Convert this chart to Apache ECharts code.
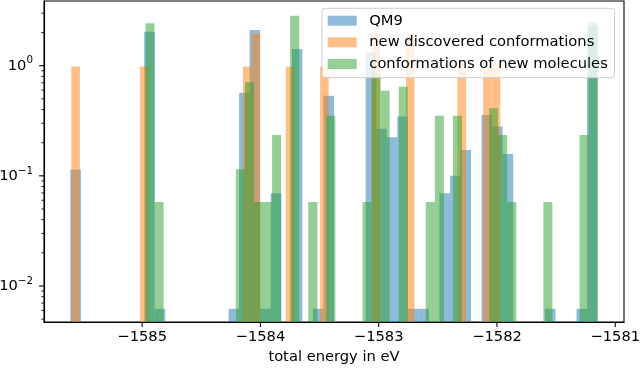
<!DOCTYPE html>
<html>
<head>
<meta charset="utf-8">
<script src="https://cdn.jsdelivr.net/npm/echarts@6/dist/echarts.min.js"></script>
<style>
  html, body { margin: 0; padding: 0; background: #fff; }
  #chart { width: 640px; height: 369px; }
</style>
</head>
<body>
<div id="chart"></div>
<script>
const seriesNames = ['QM9', 'new discovered conformations', 'conformations of new molecules']

// each data set: [min, max] energy in eV, split into 50 bins (density values)
const qm9Range = [-1585.607, -1581.149]
const newConfRange = [-1585.599, -1581.972]
const newMolRange = [-1584.972, -1581.149]

const qm9Density = [
  0.114, 0, 0, 0, 0, 0, 0, 2.03, 0.0062, 0,
  0, 0, 0, 0, 0, 0.0062, 0.569, 2.11, 0.0062, 0.0695,
  0, 1.42, 0, 0.0062, 0.534, 0, 0, 0, 1.32, 0.267,
  0.224, 0.345, 0.0062, 0.0062, 0, 0.0695, 0.1, 0.172, 0, 0.357,
  0.28, 0.158, 0, 0, 0, 0.0062, 0, 0, 0.0062, 2.3
]
const newConfDensity = [
  0.985, 0, 0, 0, 0, 0, 0, 0, 0.985, 0,
  0, 0, 0, 0, 0, 0, 0, 0, 0, 0,
  0.985, 1.97, 0, 0, 0, 0.985, 0, 0, 0, 0.985,
  0, 0, 0, 0, 0, 1.97, 0, 0, 0, 1.97,
  0, 0, 0, 0, 0, 0.985, 0, 0, 0.985, 0.985
]
const newMolDensity = [
  2.43, 0.058, 0, 0, 0, 0, 0, 0, 0, 0,
  0.115, 0.707, 0.058, 0.058, 0.235, 0, 2.84, 0, 0.058, 0,
  0.352, 0, 0, 0, 0.058, 0.85, 0.593, 0, 0.645, 0,
  0, 0.058, 0.352, 0, 0.352, 0, 0, 0, 0.41, 0.235,
  0.058, 0, 0, 0, 0.058, 0, 0, 0, 0.235, 2.48
]

const xTicks = [-1585, -1584, -1583, -1582, -1581]
const yMajorTicks = [0.01, 0.1, 1]
const yMinorTicks = [0.005, 0.006, 0.007, 0.008, 0.009,
  0.02, 0.03, 0.04, 0.05, 0.06, 0.07, 0.08, 0.09,
  0.2, 0.3, 0.4, 0.5, 0.6, 0.7, 0.8, 0.9, 2, 3]

const xMin = -1585.830, xMax = -1580.926
const yMin = 0.00471, yMax = 3.868

const colors = ['rgba(31,119,180,0.5)', 'rgba(255,127,14,0.5)', 'rgba(44,160,44,0.5)']
const font = 'DejaVu Sans'
const fs = 14.7

function toBins(range, dens) {
  const w = (range[1] - range[0]) / dens.length
  return dens.map((v, i) => [range[0] + i * w, range[0] + (i + 1) * w, v]).filter(d => d[2] > 0)
}

function renderBar(params, api) {
  const p0 = api.coord([api.value(0), api.value(2)])
  const p1 = api.coord([api.value(1), yMin])
  return {
    type: 'rect',
    shape: { x: p0[0], y: p0[1], width: p1[0] - p0[0], height: p1[1] - p0[1] },
    style: { fill: api.visual('color') }
  }
}

function tickRenderer(axis, len, lw) {
  return function (params, api) {
    const v = api.value(0)
    let shape
    if (axis === 'x') {
      const p = api.coord([v, yMin])
      shape = { x1: p[0], y1: p[1], x2: p[0], y2: p[1] + len }
    } else {
      const p = api.coord([xMin, v])
      shape = { x1: p[0] - len, y1: p[1], x2: p[0], y2: p[1] }
    }
    return { type: 'line', shape: shape, style: { stroke: '#000', lineWidth: lw } }
  }
}

function histSeries(name, range, dens, color) {
  return {
    name: name,
    type: 'custom',
    renderItem: renderBar,
    encode: { x: [0, 1], y: 2 },
    itemStyle: { color: color },
    data: toBins(range, dens),
    z: 2
  }
}

function tickSeries(axis, vals, len, lw) {
  return {
    type: 'custom',
    renderItem: tickRenderer(axis, len, lw),
    clip: false,
    silent: true,
    data: vals.map(v => [v]),
    z: 6
  }
}

const chart = echarts.init(document.getElementById('chart'))
chart.setOption({
  animation: false,
  textStyle: { fontFamily: font },
  grid: { left: 44, right: 16, top: 1, bottom: 47, show: true, borderColor: '#000', borderWidth: 1.1, outerBoundsMode: 'none' },
  legend: {
    left: 322, top: 8.3,
    orient: 'vertical',
    selectedMode: false,
    itemWidth: 29, itemHeight: 10, itemGap: 4.65,
    padding: [3.9, 6.7, 5.2, 5.7],
    backgroundColor: 'rgba(255,255,255,0.8)',
    borderColor: '#cccccc', borderWidth: 1, borderRadius: 3,
    textStyle: { fontFamily: font, fontSize: fs, color: '#000', lineHeight: 17, padding: [0, 0, 0, 7.6] },
    data: seriesNames.map((n, i) => ({ name: n, icon: 'rect', itemStyle: { color: colors[i] } })),
    z: 10
  },
  xAxis: {
    type: 'value', min: xMin, max: xMax,
    name: 'total energy in eV', nameLocation: 'middle', nameGap: 26,
    nameTextStyle: { fontFamily: font, fontSize: fs, color: '#000' },
    splitLine: { show: false },
    axisTick: { show: false },
    axisLine: { show: true, lineStyle: { color: '#000', width: 1.1 } },
    axisLabel: {
      fontFamily: font, fontSize: fs, color: '#000', margin: 8,
      formatter: v => (Math.abs(v - Math.round(v)) < 1e-6 ? '\u2212' + Math.abs(Math.round(v)) : '')
    },
    z: 5
  },
  yAxis: {
    type: 'log', min: yMin, max: yMax, logBase: 10,
    splitLine: { show: false },
    axisTick: { show: false },
    axisLine: { show: true, lineStyle: { color: '#000', width: 1.1 } },
    axisLabel: {
      color: '#000', margin: 11,
      formatter: v => {
        const l = Math.log10(v)
        const e = Math.round(l)
        if (Math.abs(l - e) > 1e-6) return ''
        return '{b|10}{s|' + (e < 0 ? '\u2212' + (-e) : e) + '}'
      },
      rich: {
        b: { fontFamily: font, fontSize: fs, color: '#000' },
        s: { fontFamily: font, fontSize: 10.3, color: '#000', padding: [0, 0, 10, 0] }
      }
    },
    z: 5
  },
  series: [
    histSeries(seriesNames[0], qm9Range, qm9Density, colors[0]),
    histSeries(seriesNames[1], newConfRange, newConfDensity, colors[1]),
    histSeries(seriesNames[2], newMolRange, newMolDensity, colors[2]),
    tickSeries('x', xTicks, 4.9, 1.1),
    tickSeries('y', yMajorTicks, 4.9, 1.1),
    tickSeries('y', yMinorTicks, 2.8, 0.8)
  ]
})
</script>
</body>
</html>
